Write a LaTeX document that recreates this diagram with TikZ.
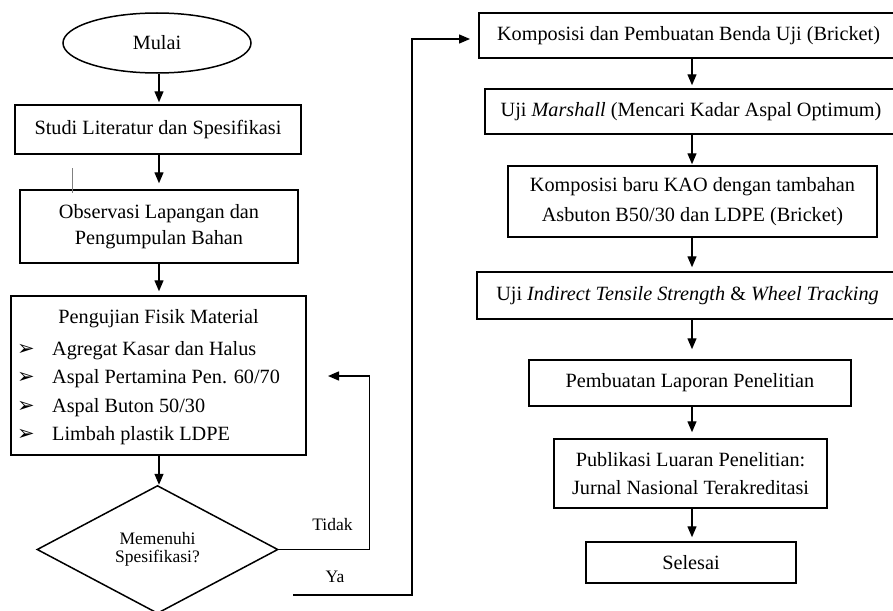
\documentclass[tikz,border=0pt]{standalone}
\usepackage{fontspec}
\setmainfont{Liberation Serif}
\newfontfamily\dejavu{DejaVu Sans}
\usetikzlibrary{shapes.geometric,arrows.meta,calc}
\begin{document}
\begin{tikzpicture}[x=1pt,y=-1pt,
  every node/.style={font=\fontsize{20.25}{26}\selectfont},
  box/.style={draw,line width=1.5pt,rectangle,inner sep=0pt,align=center},
  arr/.style={line width=1.4pt,-{Triangle[width=9pt,length=11pt]}},
  small/.style={font=\fontsize{17.5}{18}\selectfont},
  bul/.style={anchor=base west,inner sep=0pt,font=\dejavu\fontsize{21}{21}\selectfont},
  item/.style={anchor=base west,inner sep=0pt}
  ]
\useasboundingbox (0,0) rectangle (893,610);
\clip (0,0) rectangle (893,610);

% left column
\node[draw,ellipse,line width=1.5pt,minimum width=188pt,minimum height=60pt,inner sep=0pt] (mulai) at (157,43) {Mulai};
\node[box,minimum width=286pt,minimum height=49pt] (studi) at (158,129.5) {Studi Literatur dan Spesifikasi};
\node[box,minimum width=278pt,minimum height=73pt,font=\fontsize{20.25}{25.6}\selectfont] (obs) at (159,226.5) {Observasi Lapangan dan\\Pengumpulan Bahan};
\node[box,minimum width=295pt,minimum height=159pt] (uji) at (158.5,375.5) {};
\node[anchor=base,inner sep=0pt] (ujit) at (158.5,323) {Pengujian Fisik Material};
\node[bul] (bu1) at (17,355) {➢};
\node[bul] (bu2) at (17,383.5) {➢};
\node[bul] (bu3) at (17,412) {➢};
\node[bul] (bu4) at (17,440) {➢};
\node[item] (it1) at (52,355) {Agregat Kasar dan Halus};
\node[item] (it2) at (52,383.5) {Aspal Pertamina Pen. 60/70};
\node[item] (it3) at (52,412) {Aspal Buton 50/30};
\node[item] (it4) at (52,440) {Limbah plastik LDPE};
\node[draw,diamond,line width=1.5pt,minimum width=241pt,minimum height=128pt,inner sep=0pt,small,align=center] (dec) at (157.5,549.5) {Memenuhi\\Spesifikasi?};
\node[small,anchor=base,inner sep=0pt] (tidak) at (332.5,530) {Tidak};
\node[small,anchor=base,inner sep=0pt] (ya) at (335,582) {Ya};

% right column
\node[box,minimum width=419pt,minimum height=45pt] (b1) at (688.5,35.5) {Komposisi dan Pembuatan Benda Uji (Bricket)};
\node[box,minimum width=412pt,minimum height=45pt] (b2) at (691,111.5) {Uji \textit{Marshall} (Mencari Kadar Aspal Optimum)};
\node[box,minimum width=369pt,minimum height=71pt,font=\fontsize{20.25}{30}\selectfont] (b3) at (692.5,201.5) {Komposisi baru KAO dengan tambahan\\Asbuton B50/30 dan LDPE (Bricket)};
\node[box,minimum width=421pt,minimum height=47pt] (b4) at (687.5,295.5) {Uji \textit{Indirect Tensile Strength} \& \textit{Wheel Tracking}};
\node[box,minimum width=322pt,minimum height=46pt] (b5) at (690,383) {Pembuatan Laporan Penelitian};
\node[box,minimum width=273pt,minimum height=69pt,font=\fontsize{20.25}{27.5}\selectfont] (b6) at (690.5,473.5) {Publikasi Luaran Penelitian:\\Jurnal Nasional Terakreditasi};
\node[box,minimum width=210pt,minimum height=41pt] (b7) at (691,562.5) {Selesai};

% helper coordinates
\coordinate (axl) at (159,0);
\coordinate (axr) at (692,0);
\coordinate (tidakend) at (328,376);
\coordinate (ya0) at (293,595);
\coordinate (yaturn) at (412,39);
\coordinate (yaend) at (470,39);

% left connectors
\draw[arr,shorten >=2pt] (mulai.south -| axl) -- (studi.north -| axl);
\draw[arr,shorten >=6pt] (studi.south -| axl) -- (obs.north -| axl);
\draw[arr,shorten >=4pt] (obs.south -| axl) -- (uji.north -| axl);
\draw[arr] (uji.south -| axl) -- (dec.north -| axl);
\draw[arr] (dec.east) -- ++(91,0) |- (tidakend);
\draw[arr] (ya0) -| (yaturn) -- (yaend);

% right connectors
\draw[arr,shorten >=3pt] (b1.south -| axr) -- (b2.north -| axr);
\draw[arr,shorten >=1pt] (b2.south -| axr) -- (b3.north -| axr);
\draw[arr,shorten >=4pt] (b3.south -| axr) -- (b4.north -| axr);
\draw[arr,shorten >=10pt] (b4.south -| axr) -- (b5.north -| axr);
\draw[arr,shorten >=6pt] (b5.south -| axr) -- (b6.north -| axr);
\draw[arr,shorten >=4pt] (b6.south -| axr) -- (b7.north -| axr);

% stray cursor mark
\draw[line width=0.6pt,gray] (72,168) -- (72,193);
\end{tikzpicture}
\end{document}
